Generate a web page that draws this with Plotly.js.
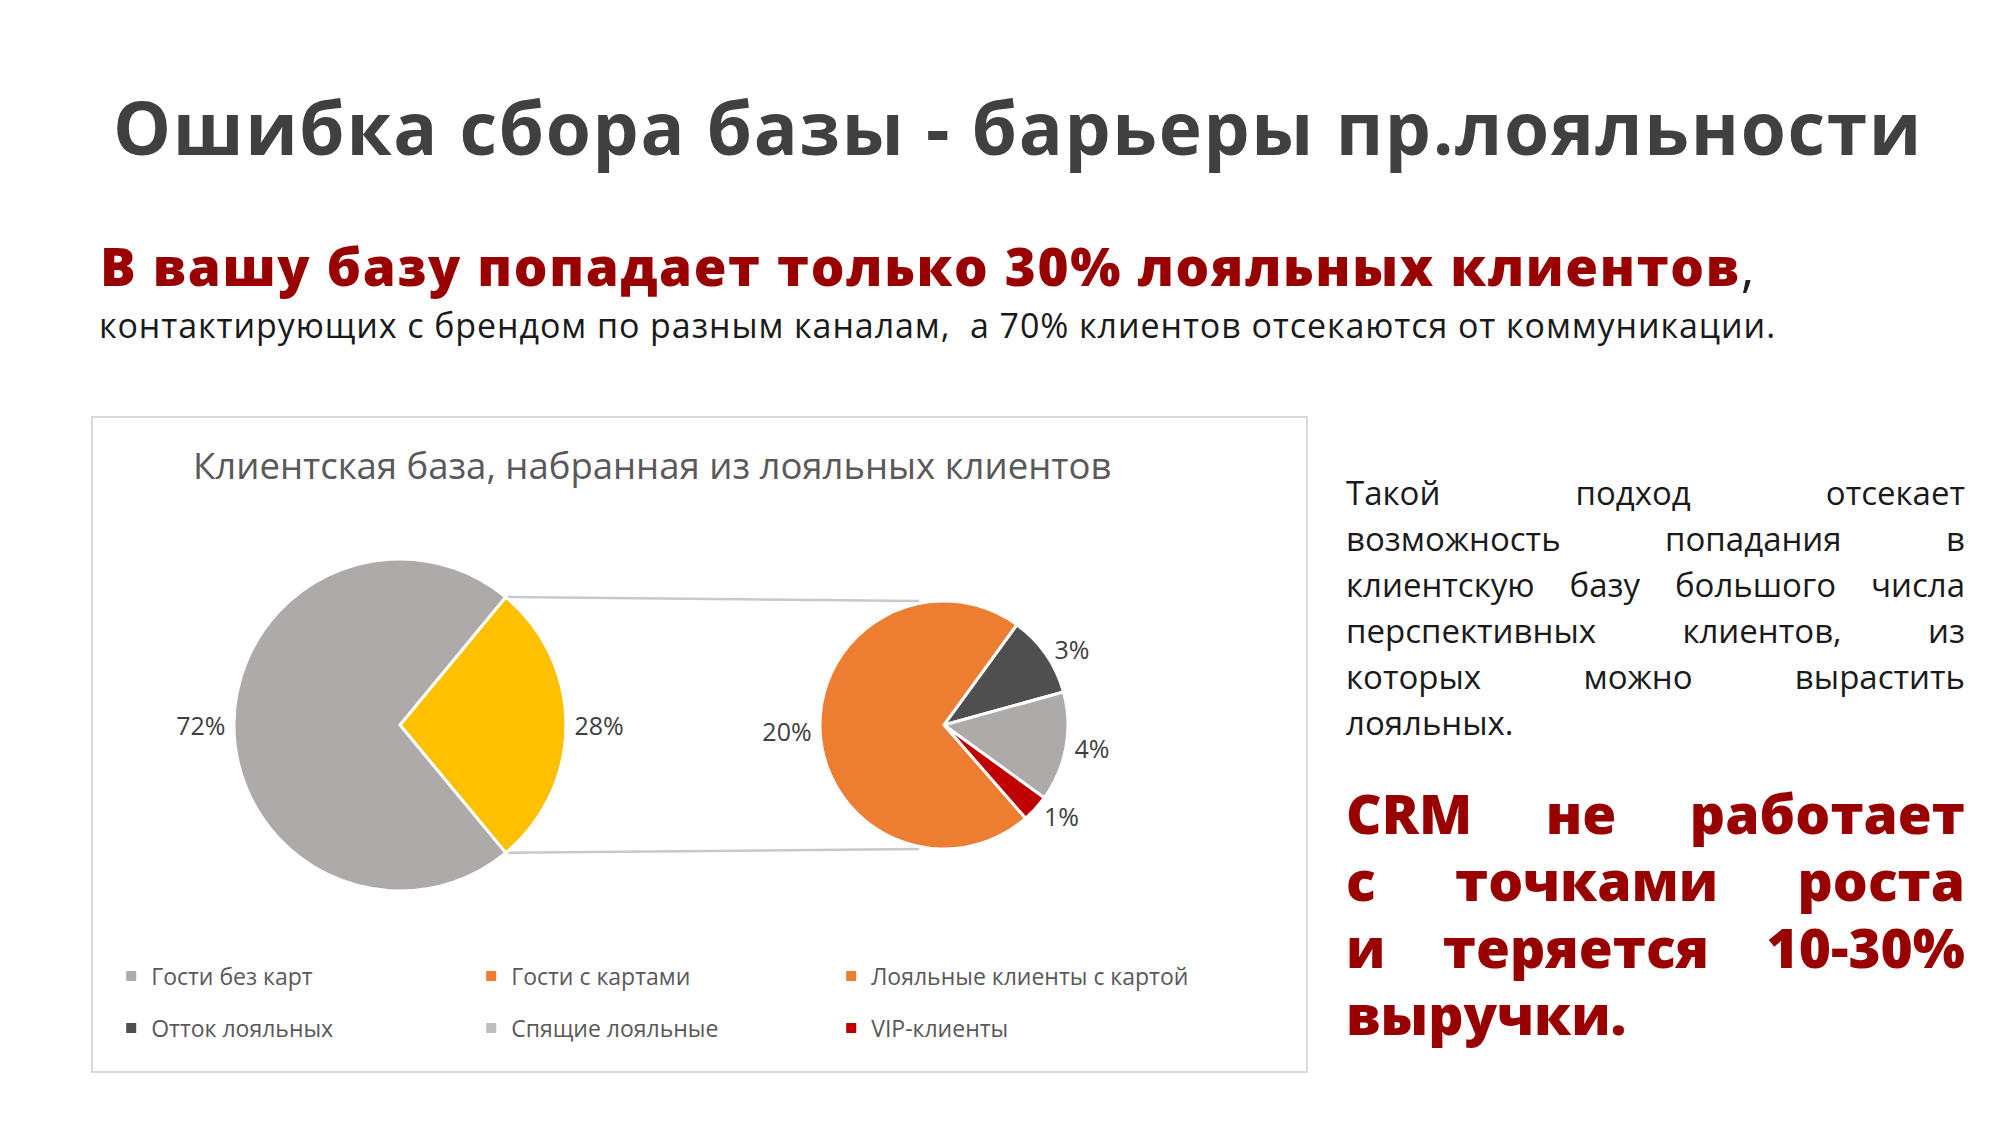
<!DOCTYPE html>
<html lang="ru">
<head>
<meta charset="utf-8">
<title>Ошибка сбора базы - барьеры пр.лояльности</title>
<script src="https://cdn.plot.ly/plotly-3.0.1.min.js"></script>
<style>
  html, body { margin: 0; padding: 0; background: #fff; }
  body { width: 2000px; height: 1125px; position: relative; overflow: hidden; font-family: "Open Sans", sans-serif; }
  .abs { position: absolute; white-space: nowrap; }
  #title { left: 113px; top: 90px; font-size: 73px; line-height: 1; font-weight: 700; color: #404040; }
  #lead { left: 100px; top: 239px; font-size: 53px; line-height: 1; font-weight: 800; color: #990000; }
  #lead span { font-weight: 400; color: #222; }
  #sub { left: 99px; top: 308px; font-size: 34px; line-height: 1; color: #1a1a1a; }
  #chart-box { position: absolute; left: 91px; top: 416px; width: 1213px; height: 653px; border: 2px solid #dadada; }
  .col { position: absolute; left: 1346px; width: 619px; }
  .col div { text-align: justify; text-align-last: justify; white-space: nowrap; }
  .col div.last { text-align-last: left; }
  #para { top: 470px; font-size: 33px; line-height: 46px; color: #1a1a1a; }
  #crm { top: 779px; font-size: 55px; line-height: 67px; font-weight: 800; color: #990000; }
</style>
</head>
<body>
<div id="title" class="abs">Ошибка сбора базы - барьеры пр.лояльности</div>
<div id="lead" class="abs">В вашу базу попадает только 30% лояльных клиентов<span>,</span></div>
<div id="sub" class="abs">контактирующих с брендом по разным каналам,&nbsp; а 70% клиентов отсекаются от коммуникации.</div>

<div id="chart-box"><div id="chart"></div></div>

<div id="para" class="col">
  <div>Такой подход отсекает</div>
  <div>возможность попадания в</div>
  <div>клиентскую базу большого числа</div>
  <div>перспективных клиентов, из</div>
  <div>которых можно вырастить</div>
  <div class="last">лояльных.</div>
</div>
<div id="crm" class="col">
  <div>CRM не работает</div>
  <div>с точками роста</div>
  <div>и теряется 10-30%</div>
  <div class="last">выручки.</div>
</div>

<script>
// данные диаграммы
const chartTitle = 'Клиентская база, набранная из лояльных клиентов';
const primaryLabels = ['Гости с картами', 'Гости без карт'];
const primaryValues = [28, 72];
const secondaryLabels = ['Отток лояльных', 'Спящие лояльные', 'VIP-клиенты', 'Лояльные клиенты с картой'];
const secondaryValues = [3, 4, 1, 20];
const legendNames = ['Гости без карт', 'Гости с картами', 'Лояльные клиенты с картой',
                     'Отток лояльных', 'Спящие лояльные', 'VIP-клиенты'];

// цвета
const primaryColors = ['#FFC000', '#AEAAAA'];
const secondaryColors = ['#4F4F4F', '#AEAAAA', '#C00000', '#ED7D31'];
const legendColors = ['#AEAAAA', '#ED7D31', '#ED7D31', '#4F4F4F', '#BDBDBD', '#C00000'];

const W = 1213, H = 653;
const FONT = '"Open Sans", sans-serif';

const leftDomain = { x: [0.1162, 0.3899], y: [0.2757, 0.7841] };
const rightDomain = { x: [0.5993, 0.8038], y: [0.340, 0.7198] };

// первый сектор (выносимый) центрируем на 3 часа
const primaryTotal = primaryValues.reduce((a, b) => a + b, 0);
const splitAngle = primaryValues[0] / primaryTotal * 360;
const leftRotation = 90 - splitAngle / 2;
const rightRotation = 36;

const pieCommon = {
  type: 'pie',
  sort: false,
  direction: 'clockwise',
  texttemplate: '%{value}%',
  textposition: 'outside',
  textfont: { family: FONT, size: 25, color: '#404040' },
  hovertemplate: '%{label}: %{value}%<extra></extra>',
  showlegend: false
};

const traces = [
  Object.assign({}, pieCommon, {
    labels: primaryLabels,
    values: primaryValues,
    domain: leftDomain,
    rotation: leftRotation,
    marker: { colors: primaryColors, line: { color: '#ffffff', width: 3 } }
  }),
  Object.assign({}, pieCommon, {
    labels: secondaryLabels,
    values: secondaryValues,
    domain: rightDomain,
    rotation: rightRotation,
    marker: { colors: secondaryColors, line: { color: '#ffffff', width: 3 } }
  })
];

// легенда в две строки по три элемента
legendNames.forEach((name, i) => {
  traces.push({
    type: 'scatter',
    mode: 'markers',
    x: [null], y: [null],
    name: name,
    marker: { symbol: 'square', size: 10, color: legendColors[i] },
    legend: i < 3 ? 'legend' : 'legend2',
    hoverinfo: 'skip'
  });
});

// соединительные линии между диаграммами
function pieGeom(dom) {
  const w = (dom.x[1] - dom.x[0]) * W, h = (dom.y[1] - dom.y[0]) * H;
  return {
    cx: (dom.x[0] + dom.x[1]) / 2 * W,
    cy: (1 - (dom.y[0] + dom.y[1]) / 2) * H,
    r: Math.min(w, h) / 2
  };
}
const g1 = pieGeom(leftDomain), g2 = pieGeom(rightDomain);
function edge(g, deg) {
  const a = deg * Math.PI / 180;
  return [g.cx + g.r * Math.sin(a), g.cy - g.r * Math.cos(a)];
}
const p1 = edge(g1, leftRotation), p2 = edge(g1, leftRotation + splitAngle);
const q1 = [g2.cx - g2.r * 0.2, g2.cy - g2.r], q2 = [g2.cx - g2.r * 0.2, g2.cy + g2.r];
const shapes = [[p1, q1], [p2, q2]].map(([a, b]) => ({
  type: 'line', xref: 'paper', yref: 'paper', layer: 'below',
  x0: a[0] / W, y0: 1 - a[1] / H, x1: b[0] / W, y1: 1 - b[1] / H,
  line: { color: '#c9c9c9', width: 2.5 }
}));

const legendBase = {
  orientation: 'h',
  xanchor: 'left', yanchor: 'middle',
  x: 0.015,
  entrywidth: 315, entrywidthmode: 'pixels',
  font: { family: FONT, size: 23, color: '#595959' },
  bgcolor: 'rgba(0,0,0,0)',
  itemclick: false, itemdoubleclick: false
};

const layout = {
  width: W, height: H,
  margin: { l: 0, r: 0, t: 0, b: 0 },
  paper_bgcolor: '#ffffff',
  plot_bgcolor: '#ffffff',
  title: {
    text: chartTitle,
    x: 0.461, xanchor: 'center',
    y: 1 - 48 / H, yanchor: 'middle', yref: 'paper',
    font: { family: FONT, size: 36.5, color: '#595959' }
  },
  xaxis: { visible: false },
  yaxis: { visible: false },
  showlegend: true,
  legend: Object.assign({}, legendBase, { y: 1 - 558 / H }),
  legend2: Object.assign({}, legendBase, { y: 1 - 610 / H }),
  shapes: shapes
};

Plotly.newPlot('chart', traces, layout, { displayModeBar: false });

// подгонка ширины заголовков под макет
function fitWidth(id, target) {
  const el = document.getElementById(id);
  const text = el.textContent;
  const w = el.getBoundingClientRect().width;
  el.style.letterSpacing = ((target - w) / text.length) + 'px';
}
document.fonts.ready.then(() => {
  fitWidth('title', 1810);
  fitWidth('lead', 1656);
  fitWidth('sub', 1677);
});
</script>
</body>
</html>
